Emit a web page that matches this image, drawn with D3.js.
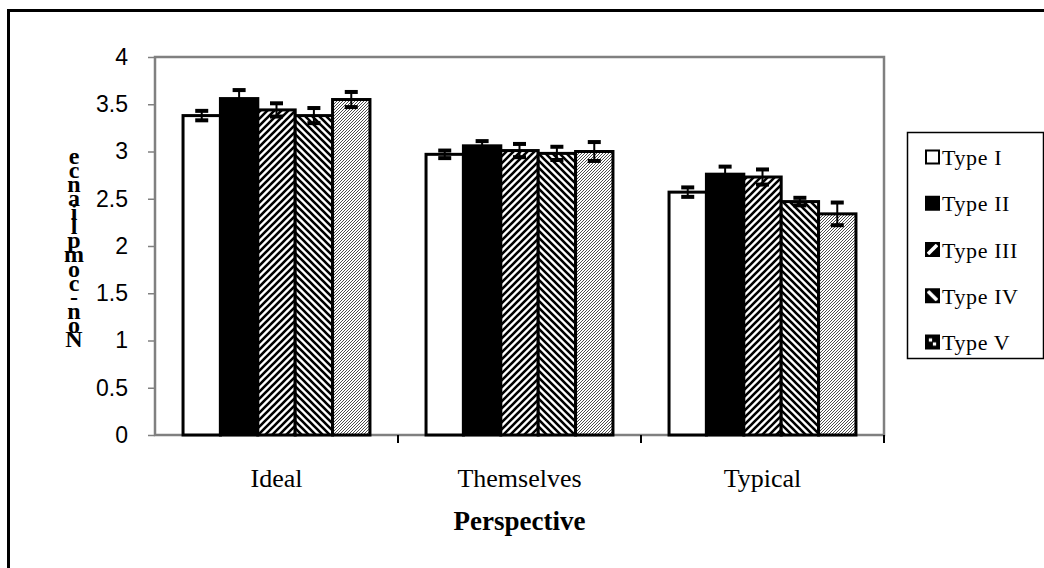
<!DOCTYPE html>
<html>
<head>
<meta charset="utf-8">
<script src="https://cdn.jsdelivr.net/npm/d3@7"></script>
<style>
  html, body { margin: 0; padding: 0; background: #fff; }
  svg { display: block; }
</style>
</head>
<body>
<svg id="chart" width="1044" height="568"></svg>
<script>
// ---- data ----
const categories = ["Ideal", "Themselves", "Typical"];
const seriesNames = ["Type I", "Type II", "Type III", "Type IV", "Type V"];
const typeI   = [3.38, 2.97, 2.57];
const typeII  = [3.56, 3.06, 2.76];
const typeIII = [3.44, 3.01, 2.73];
const typeIV  = [3.38, 2.98, 2.47];
const typeV   = [3.55, 3.00, 2.34];
const errI    = [0.05, 0.04, 0.05];
const errII   = [0.09, 0.05, 0.08];
const errIII  = [0.07, 0.07, 0.08];
const errIV   = [0.08, 0.07, 0.04];
const errV    = [0.08, 0.10, 0.12];
const yTicks  = [0, 0.5, 1, 1.5, 2, 2.5, 3, 3.5, 4];
const yTitle  = "Non-compliance";
const xTitle  = "Perspective";

const seriesValues = [typeI, typeII, typeIII, typeIV, typeV];
const seriesErrors = [errI, errII, errIII, errIV, errV];
const rows = [];
categories.forEach((c, ci) => {
  seriesNames.forEach((s, si) => {
    rows.push({ cat: c, series: s, si, value: seriesValues[si][ci], err: seriesErrors[si][ci] });
  });
});

// ---- layout ----
const svg = d3.select("#chart");
const plot = { left: 155, top: 57, right: 884, bottom: 435 };

// outer frame
svg.append("rect")
  .attr("x", 8.5).attr("y", 10.5)
  .attr("width", 1100).attr("height", 700)
  .attr("fill", "none").attr("stroke", "#000").attr("stroke-width", 3);

// patterns
const defs = svg.append("defs");
function hatch(id, dir, size, sw) {
  const p = defs.append("pattern").attr("id", id)
    .attr("patternUnits", "userSpaceOnUse").attr("width", size).attr("height", size);
  p.append("rect").attr("width", size).attr("height", size).attr("fill", "#fff");
  const d = dir > 0
    ? `M0,${size} L${size},0 M${-size/2},${size/2} L${size/2},${-size/2} M${size/2},${size*1.5} L${size*1.5},${size/2}`
    : `M0,0 L${size},${size} M${-size/2},${size/2} L${size/2},${size*1.5} M${size/2},${-size/2} L${size*1.5},${size/2}`;
  p.append("path").attr("d", d).attr("stroke", "#000").attr("stroke-width", sw);
}
hatch("pIII", 1, 7, 2.6);
hatch("pIV", -1, 7, 2.6);
hatch("pV", 1, 3, 0.7);
// legend-specific patterns (enlarged look)
function legHatch(id, dir) {
  const p = defs.append("pattern").attr("id", id)
    .attr("patternUnits", "objectBoundingBox").attr("width", 1).attr("height", 1)
    .attr("patternContentUnits", "objectBoundingBox");
  p.append("rect").attr("width", 1).attr("height", 1).attr("fill", "#000");
  p.append("path").attr("d", dir > 0 ? "M0.15,0.85 L0.85,0.15" : "M0.15,0.15 L0.85,0.85")
    .attr("stroke", "#fff").attr("stroke-width", 0.28);
}
legHatch("lIII", 1);
legHatch("lIV", -1);
(function () {
  const p = defs.append("pattern").attr("id", "lV")
    .attr("patternUnits", "objectBoundingBox").attr("width", 1).attr("height", 1)
    .attr("patternContentUnits", "objectBoundingBox");
  p.append("rect").attr("width", 1).attr("height", 1).attr("fill", "#000");
  p.append("rect").attr("x", 0.22).attr("y", 0.22).attr("width", 0.25).attr("height", 0.25).attr("fill", "#fff");
  p.append("rect").attr("x", 0.53).attr("y", 0.53).attr("width", 0.25).attr("height", 0.25).attr("fill", "#fff");
})();

const fills = ["#fff", "#000", "url(#pIII)", "url(#pIV)", "url(#pV)"];
const legendFills = ["#fff", "#000", "url(#lIII)", "url(#lIV)", "url(#lV)"];

// scales
const x0 = d3.scaleBand().domain(categories).range([plot.left, plot.right]).padding(0);
const x1 = d3.scaleBand().domain(seriesNames).range([0, x0.bandwidth()]).paddingInner(0).paddingOuter(0.75);
const y = d3.scaleLinear().domain([0, 4]).range([plot.bottom, plot.top]);

// plot frame
svg.append("rect")
  .attr("x", plot.left).attr("y", plot.top)
  .attr("width", plot.right - plot.left).attr("height", plot.bottom - plot.top)
  .attr("fill", "none").attr("stroke", "#808080").attr("stroke-width", 2.5);

// y axis
const yAxis = svg.append("g").attr("transform", `translate(${plot.left},0)`)
  .call(d3.axisLeft(y).tickValues(yTicks).tickSize(7).tickPadding(20).tickFormat(d => String(d)));
yAxis.select(".domain").remove();
yAxis.selectAll(".tick line").attr("stroke", "#808080").attr("stroke-width", 1.5);
yAxis.selectAll(".tick text")
  .attr("font-family", "'Liberation Sans', Arial, sans-serif")
  .attr("font-size", 23).attr("fill", "#000");

// x ticks at category boundaries
svg.append("g").selectAll("line").data(categories).join("line")
  .attr("x1", d => x0(d) + x0.bandwidth()).attr("x2", d => x0(d) + x0.bandwidth())
  .attr("y1", plot.bottom).attr("y2", plot.bottom + 8)
  .attr("stroke", "#000").attr("stroke-width", 2);

// bars
const bars = svg.append("g");
bars.selectAll("rect").data(rows).join("rect")
  .attr("x", d => x0(d.cat) + x1(d.series))
  .attr("y", d => y(d.value))
  .attr("width", x1.bandwidth())
  .attr("height", d => y(0) - y(d.value))
  .attr("fill", d => fills[d.si])
  .attr("stroke", "#000").attr("stroke-width", 3);

// error bars
const eb = svg.append("g");
eb.selectAll("line").data(rows).join("line")
  .attr("x1", d => x0(d.cat) + x1(d.series) + x1.bandwidth() / 2)
  .attr("x2", d => x0(d.cat) + x1(d.series) + x1.bandwidth() / 2)
  .attr("y1", d => y(d.value + d.err)).attr("y2", d => y(d.value - d.err))
  .attr("stroke", "#000").attr("stroke-width", 2);
["+", "-"].forEach(sgn => {
  eb.append("g").selectAll("rect").data(rows).join("rect")
    .attr("x", d => x0(d.cat) + x1(d.series) + x1.bandwidth() / 2 - 6.5)
    .attr("y", d => y(sgn === "+" ? d.value + d.err : d.value - d.err) - 2)
    .attr("width", 13).attr("height", 4).attr("fill", "#000");
});

// category labels
svg.append("g").selectAll("text").data(categories).join("text")
  .attr("x", d => x0(d) + x0.bandwidth() / 2)
  .attr("y", 487)
  .attr("text-anchor", "middle")
  .attr("font-family", "'Liberation Serif', 'Times New Roman', serif")
  .attr("font-size", 26)
  .text(d => d);

// x title
svg.append("text")
  .attr("x", x0.range()[0] + (x0.range()[1] - x0.range()[0]) / 2).attr("y", 530)
  .attr("text-anchor", "middle")
  .attr("font-family", "'Liberation Serif', 'Times New Roman', serif")
  .attr("font-size", 27).attr("font-weight", "bold")
  .text(xTitle);

// y title: letters stacked bottom-to-top, upright (as in the reference)
const letters = yTitle.split("");
svg.append("g").selectAll("text").data(letters).join("text")
  .attr("x", 74)
  .attr("y", (d, i) => 347 - i * 14.1)
  .attr("text-anchor", "middle")
  .attr("font-family", "'Liberation Serif', 'Times New Roman', serif")
  .attr("font-size", 24).attr("font-weight", "bold")
  .text(d => d);

// legend
const lg = svg.append("g");
lg.append("rect").attr("x", 907.5).attr("y", 132.5).attr("width", 136).attr("height", 226)
  .attr("fill", "#fff").attr("stroke", "#000").attr("stroke-width", 1.5);
const ly = d3.scalePoint().domain(seriesNames).range([157, 342]);
const items = lg.selectAll("g.item").data(seriesNames).join("g").attr("class", "item")
  .attr("transform", d => `translate(925,${ly(d)})`);
items.append("rect").attr("x", 1).attr("y", -6.5).attr("width", 13).attr("height", 13)
  .attr("fill", (d, i) => legendFills[i]).attr("stroke", "#000").attr("stroke-width", 2);
items.append("text").attr("x", 17).attr("y", 8)
  .attr("font-family", "'Liberation Serif', 'Times New Roman', serif")
  .attr("font-size", 22).attr("letter-spacing", 0.6)
  .text(d => d);
</script>
</body>
</html>
